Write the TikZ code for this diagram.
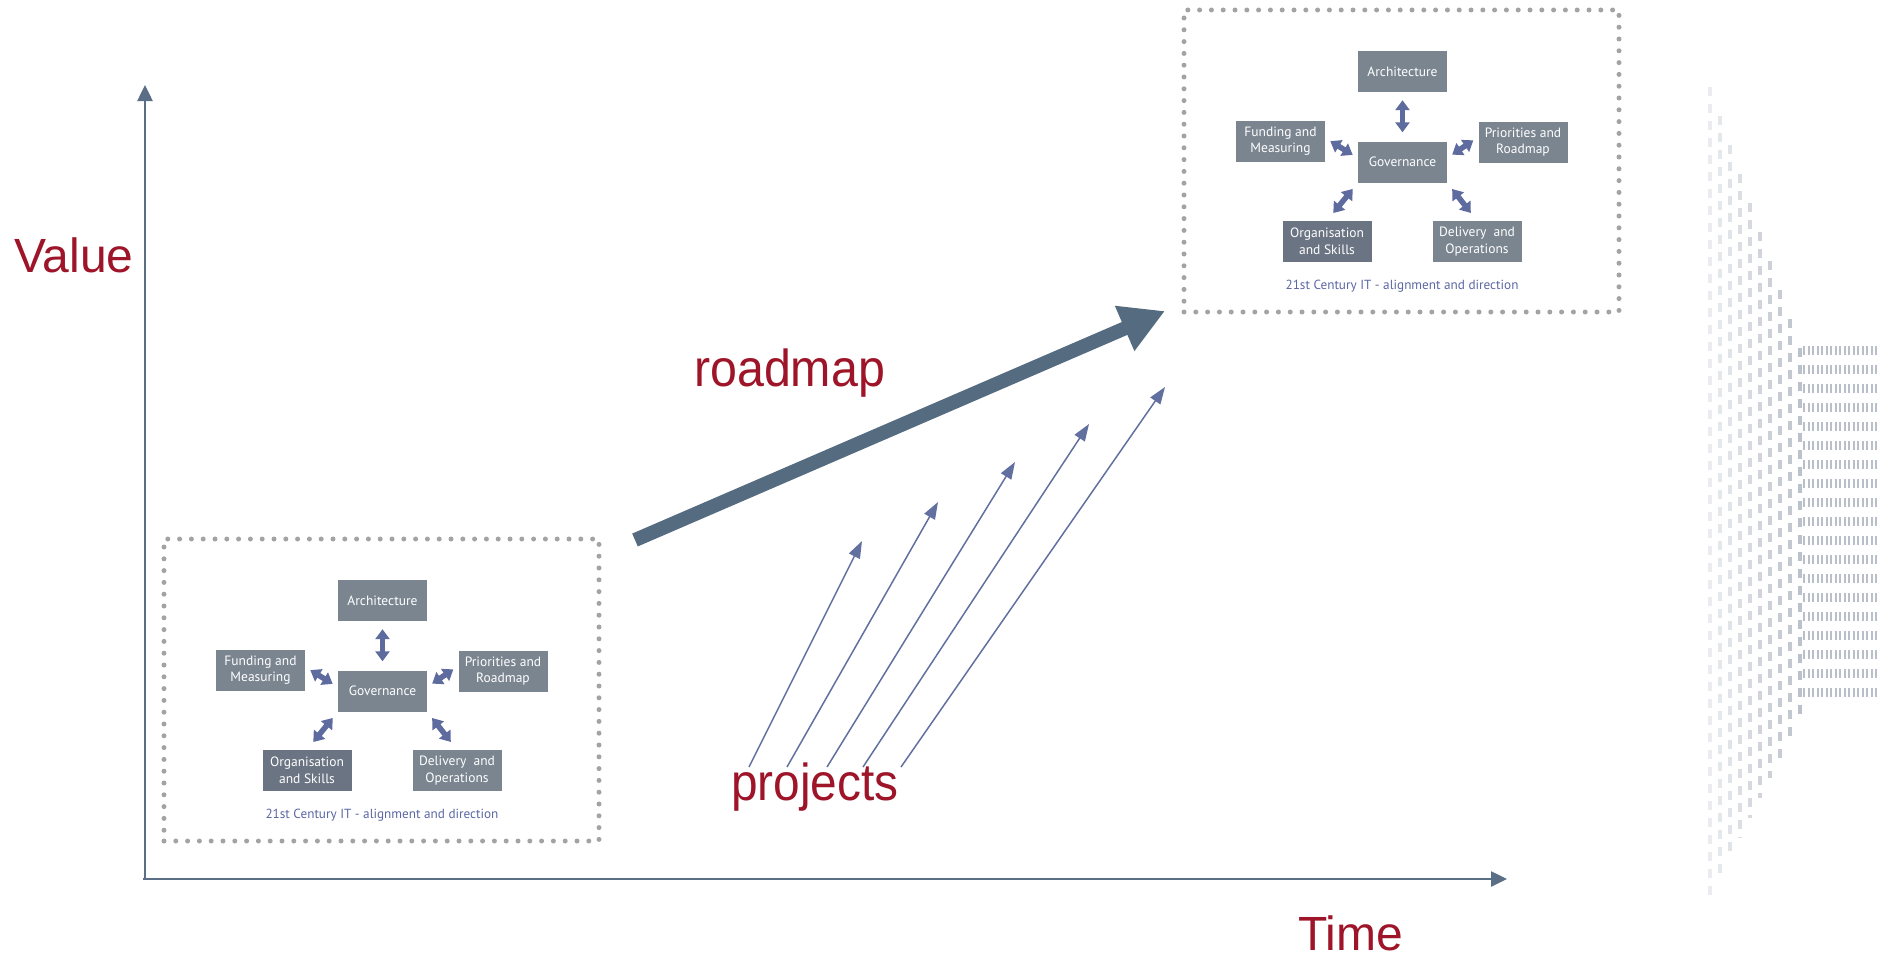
\documentclass[tikz,border=0pt]{standalone}
\usepackage{fontspec}
\setmainfont{Liberation Sans}
\newfontfamily\boxfont{PT Sans}
\usepackage{graphicx}
\usetikzlibrary{arrows.meta}
\definecolor{textred}{HTML}{9E1428}
\definecolor{axiscol}{HTML}{5A6F86}
\definecolor{roadcol}{HTML}{546B80}
\definecolor{projcol}{HTML}{6270A0}
\definecolor{boxgray}{HTML}{7A8590}
\definecolor{orggray}{HTML}{6B7482}
\definecolor{dblcol}{HTML}{5E6B9E}
\definecolor{capcol}{HTML}{5B66A3}
\definecolor{dotgray}{HTML}{A3A3A3}
\definecolor{decocol}{HTML}{7F8A9C}

\tikzset{
  itnode/.style={fill=boxgray, minimum width=89pt, minimum height=41pt, inner sep=1pt,
    align=center, text=white, font=\boxfont\fontsize{13.5}{16.5}\selectfont},
  frame/.style={draw=dotgray, line width=5pt, dash pattern=on 0pt off 11.8pt, line cap=round,
    minimum width=435pt, minimum height=302pt, inner sep=0pt},
  caption/.style={text=capcol, inner sep=0pt, font=\boxfont\fontsize{13.2}{15}\selectfont},
  dbl/.style={line width=5.5pt, draw=dblcol,
    {Triangle[width=14pt,length=10pt]}-{Triangle[width=14pt,length=10pt]}},
  axis/.style={line width=2.5pt, draw=axiscol, -{Triangle[width=15pt,length=16pt]}},
  roadarrow/.style={line width=14pt, draw=roadcol, -{Triangle[width=46pt,length=44pt]}},
  proj/.style={line width=1.5pt, draw=projcol, -{Triangle[width=12pt,length=17pt]}},
  biglabel/.style={text=textred, inner sep=0pt, font=\fontsize{48}{56}\selectfont},
  midlabel/.style={text=textred, inner sep=0pt, font=\fontsize{52}{60}\selectfont},
}

\newcommand\ITbox[1]{%
  \node[frame] (#1frame) at (217.5,151) {};
  \node[itnode] (#1arch) at (218.5,61.5) {Architecture};
  \node[itnode] (#1gov) at (218.5,152) {Governance};
  \node[itnode] (#1fund) at (96.5,131) {Funding and\\Measuring};
  \node[itnode] (#1prio) at (339,132) {Priorities and\\Roadmap};
  \node[itnode, fill=orggray] (#1org) at (143,231.5) {Organisation\\and Skills};
  \node[itnode] (#1del) at (293,231.5) {Delivery\ \ and\\Operations};
  \node[caption] (#1cap) at (218,276) {21st Century IT - alignment and direction};
  \draw[dbl, shorten <=9pt, shorten >=8pt] (#1gov) -- (#1arch);
  \draw[dbl, shorten <=6pt, shorten >=6pt] ([yshift=4pt]#1gov.west) -- ([yshift=3pt]#1fund.east);
  \draw[dbl, shorten <=6pt, shorten >=6pt] ([yshift=4pt]#1gov.east) -- ([yshift=5pt]#1prio.west);
  \draw[dbl, shorten <=8pt, shorten >=10pt] (#1gov.south west) -- (#1org.north);
  \draw[dbl, shorten <=8pt, shorten >=10pt] (#1gov.south east) -- (#1del.north);
}

\begin{document}
\begin{tikzpicture}[x=1pt, y=-1pt]
\useasboundingbox (0,0) rectangle (1879,958);

% decoration on the right
\foreach \j in {0,...,9}{
  \pgfmathsetmacro\xx{1710+10*\j}
  \pgfmathsetmacro\yt{87+29*\j}
  \pgfmathsetmacro\yb{898-20*\j}
  \pgfmathsetmacro\op{0.16+0.04*\j}
  \draw[decocol, opacity=\op, line width=3.5pt, dash pattern=on 9pt off 8pt] (\xx,\yt) -- (\xx,\yb);
}
\foreach \r in {0,...,18}{
  \pgfmathsetmacro\yy{350+19*\r}
  \draw[decocol, opacity=0.55, line width=9pt, dash pattern=on 2pt off 2.5pt] (1803,\yy) -- (1879,\yy);
}

% axes
\coordinate (O) at (145,879);
\coordinate (ytop) at (145,85);
\coordinate (xend) at (1507,879);
\draw[axis] (O) -- (ytop);
\draw[axis] ([xshift=-2pt]O) -- (xend);

% boxes
\begin{scope}[shift={(164,539)}]
  \ITbox{L}
\end{scope}
\begin{scope}[shift={(1184,10)}]
  \ITbox{U}
\end{scope}

% roadmap arrow
\coordinate (rs) at (635,540);
\coordinate (re) at (1165,311);
\draw[roadarrow] (rs) -- (re);

% project arrows
\coordinate (p1s) at (749,767); \coordinate (p1e) at (862,541);
\coordinate (p2s) at (787,767); \coordinate (p2e) at (938,502);
\coordinate (p3s) at (827,767); \coordinate (p3e) at (1015,462);
\coordinate (p4s) at (863,767); \coordinate (p4e) at (1089,424);
\coordinate (p5s) at (901,767); \coordinate (p5e) at (1165,387);
\foreach \k in {1,...,5}{ \draw[proj] (p\k s) -- (p\k e); }

% labels
\node[biglabel, anchor=base west] (value) at (14,272) {Value};
\node[biglabel, anchor=base west] (time) at (1298,950) {Time};
\node[midlabel, anchor=base west] (roadmap) at (694,386) {\scalebox{0.93}[1]{roadmap}};
\node[midlabel, anchor=base west] (projects) at (731,800) {\scalebox{0.92}[1]{projects}};
\end{tikzpicture}
\end{document}
